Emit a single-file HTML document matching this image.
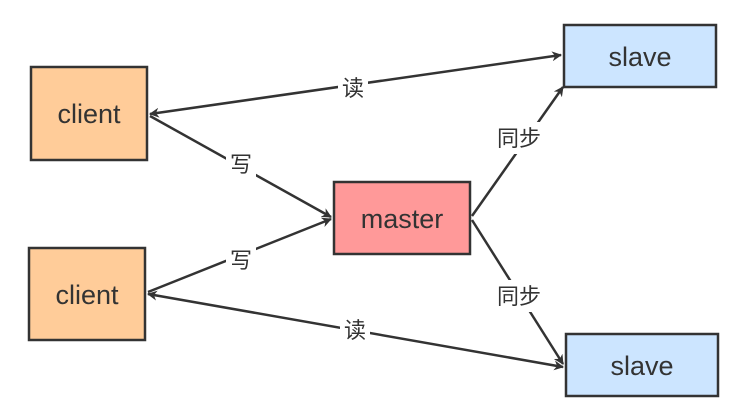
<!DOCTYPE html>
<html><head><meta charset="utf-8"><style>
html,body{margin:0;padding:0;background:#fff;}
</style></head><body>
<svg width="743" height="409" viewBox="0 0 743 409" xmlns="http://www.w3.org/2000/svg">
<defs>
<marker id="a" markerWidth="10" markerHeight="10" refX="9" refY="5" orient="auto-start-reverse" markerUnits="userSpaceOnUse" viewBox="0 0 10 10">
<path d="M0,0 L10,5 L0,10 L3,5 z" fill="#333"/>
</marker>
</defs>
<g stroke="#333" stroke-width="2.5" fill="none">
<line x1="150" y1="114" x2="561" y2="55" marker-start="url(#a)" marker-end="url(#a)"/>
<line x1="150" y1="116" x2="331" y2="217" marker-end="url(#a)"/>
<line x1="148" y1="292" x2="331" y2="219" marker-end="url(#a)"/>
<line x1="148" y1="294" x2="563" y2="367" marker-start="url(#a)" marker-end="url(#a)"/>
<line x1="472" y1="216" x2="563" y2="87" marker-end="url(#a)"/>
<line x1="472" y1="220" x2="563" y2="364" marker-end="url(#a)"/>
</g>
<g stroke="#333" stroke-width="2.5">
<rect x="31" y="67" width="116" height="93" fill="#ffcc99"/>
<rect x="29" y="248" width="116" height="92" fill="#ffcc99"/>
<rect x="334" y="182" width="136" height="72" fill="#ff9999"/>
<rect x="564" y="25" width="152" height="62" fill="#cce5ff"/>
<rect x="566" y="334" width="152" height="62" fill="#cce5ff"/>
</g>
<g font-family="Liberation Sans, sans-serif" font-size="27" fill="#333" text-anchor="middle">
<text x="89" y="123">client</text>
<text x="87" y="304">client</text>
<text x="402" y="228">master</text>
<text x="640" y="66">slave</text>
<text x="642" y="375">slave</text>
</g>
<g font-family="Liberation Sans, 'Noto Sans CJK SC', sans-serif" font-size="22" fill="#333" text-anchor="middle">
<rect x="338" y="72" width="30" height="30" fill="#fff"/>
<text x="353" y="96">读</text>
<rect x="226" y="148" width="30" height="30" fill="#fff"/>
<text x="241" y="172">写</text>
<rect x="226" y="244" width="30" height="30" fill="#fff"/>
<text x="241" y="268">写</text>
<rect x="340" y="314" width="30" height="30" fill="#fff"/>
<text x="355" y="338">读</text>
<rect x="490" y="122" width="58" height="32" fill="#fff"/>
<text x="519" y="146">同步</text>
<rect x="490" y="280" width="58" height="32" fill="#fff"/>
<text x="519" y="304">同步</text>
</g>
</svg>
</body></html>
